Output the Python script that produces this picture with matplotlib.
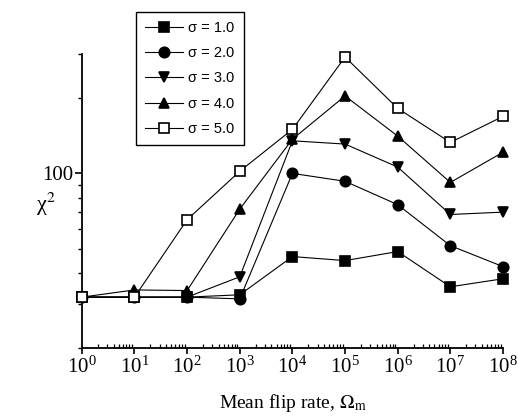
import numpy as np
import matplotlib
matplotlib.use('Agg')
import matplotlib.pyplot as plt
from matplotlib.ticker import LogLocator, NullFormatter, FixedLocator, FixedFormatter

plt.rcParams['mathtext.fontset'] = 'stix'
plt.rcParams['font.family'] = 'Liberation Serif'

# data
flip_rate = [1e0, 1e1, 1e2, 1e3, 1e4, 1e5, 1e6, 1e7, 1e8]
chi_s1 = [32, 32, 32, 32.7, 46.5, 44.8, 48.7, 35.2, 37.9]
chi_s2 = [32, 32, 32, 31.5, 100, 93, 75, 51.4, 42.4]
chi_s3 = [32, 32, 32, 38.6, 135, 131, 106, 68.5, 70]
chi_s4 = [32, 34.2, 34, 72, 137, 204, 141, 92, 121.5]
chi_s5 = [32, 32, 65.3, 102, 150, 292, 182, 133, 169]
labels = ['σ = 1.0', 'σ = 2.0', 'σ = 3.0', 'σ = 4.0', 'σ = 5.0']

fig = plt.figure(figsize=(5.18, 4.16), dpi=100)
ax = fig.add_axes([0.158, 0.163, 0.813, 0.707])

styles = [('s', 'k'), ('o', 'k'), ('v', 'k'), ('^', 'k'), ('s', 'white')]
for ys, (m, fc), lab in zip([chi_s1, chi_s2, chi_s3, chi_s4, chi_s5], styles, labels):
    ax.plot(flip_rate, ys, color='k', lw=0.8, marker=m, ms=7.5,
            mfc=fc, mec='k', mew=1.2, label=lab, clip_on=False, zorder=3)

ax.set_xscale('log')
ax.set_yscale('log')
ax.set_xlim(1, 1e8)
ax.set_ylim(20, 300)

ax.spines['top'].set_visible(False)
ax.spines['right'].set_visible(False)
ax.spines['left'].set_linewidth(1.3)
ax.spines['bottom'].set_linewidth(1.3)

ax.xaxis.set_major_locator(LogLocator(base=10, numticks=20))
ax.xaxis.set_minor_locator(LogLocator(base=10, subs=np.arange(2, 10), numticks=100))
ax.xaxis.set_minor_formatter(NullFormatter())
ax.tick_params(axis='x', which='major', direction='out', length=4, width=1.2,
               labelsize=15, pad=2)
ax.tick_params(axis='x', which='minor', direction='in', length=3, width=0.9)

ax.yaxis.set_major_locator(FixedLocator([100]))
ax.yaxis.set_major_formatter(FixedFormatter(['100']))
ax.yaxis.set_minor_locator(FixedLocator([20, 30, 40, 50, 60, 70, 80, 90, 200, 300]))
ax.yaxis.set_minor_formatter(NullFormatter())
ax.tick_params(axis='y', which='major', direction='out', length=5, width=1.2,
               labelsize=15, pad=1)
ax.tick_params(axis='y', which='minor', direction='out', length=3, width=1.0)

ax.set_xlabel('Mean flip rate, $\\Omega_{\\rm m}$', fontsize=14, labelpad=10)
ax.set_ylabel('χ$^2$', fontsize=16, rotation=0, ha='center', va='center')
ax.yaxis.set_label_coords(-0.085, 0.49)

leg = ax.legend(loc='upper left', bbox_to_anchor=(136 / 518, 1 - 12 / 416),
                bbox_transform=fig.transFigure, fancybox=False, framealpha=1,
                edgecolor='k', prop={'family': 'Liberation Sans', 'size': 10.5},
                handlelength=2.6, handletextpad=0.4, labelspacing=0.78,
                borderpad=0.6, borderaxespad=0)
leg.get_frame().set_linewidth(1.0)

fig.savefig('out.png', dpi=100)
